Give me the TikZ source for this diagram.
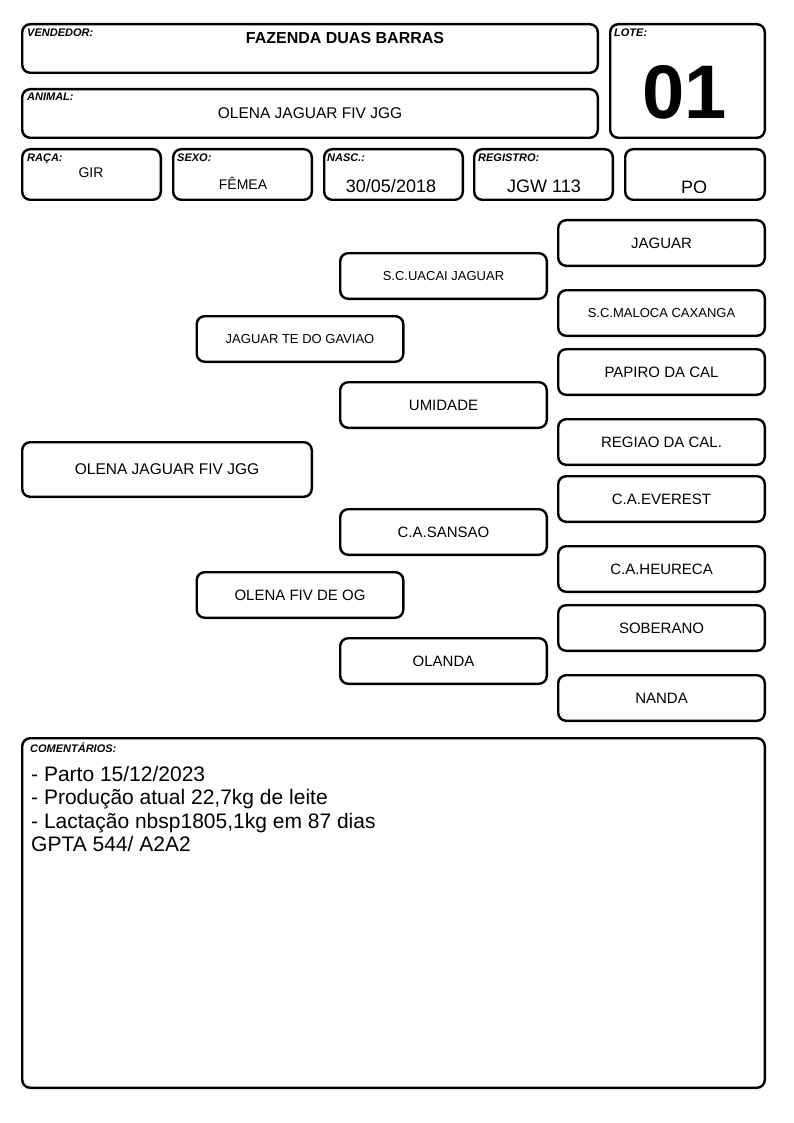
\documentclass[tikz,border=0pt]{standalone}
\usepackage{fontspec}
\setmainfont{Liberation Sans}
\begin{document}
\begin{tikzpicture}[x=1pt,y=-1pt,
  box/.style={draw, line width=2.4pt, rounded corners=8pt, inner sep=0pt},
  ped/.style={box, minimum width=206.6pt, minimum height=45.6pt, align=center},
  lbl/.style={anchor=north west, inner sep=0pt, font=\fontsize{11}{13}\selectfont\bfseries\itshape},
  txt/.style={anchor=base, inner sep=0pt},
  cline/.style={anchor=base west, inner sep=0pt, font=\fontsize{21}{24}\selectfont},
  f13/.style={font=\fontsize{13}{16}\selectfont},
  f14/.style={font=\fontsize{14}{17}\selectfont},
  f15/.style={font=\fontsize{15}{18}\selectfont},
  f16/.style={font=\fontsize{15.5}{19}\selectfont},
  f18/.style={font=\fontsize{18}{21}\selectfont}]
\useasboundingbox (0,0) rectangle (794,1123);
% header
\node[box, minimum width=575.6pt, minimum height=48.6pt] (vend) at (310,48.5) {};
\node[box, minimum width=575.6pt, minimum height=48.6pt] (anim) at (310,113.5) {};
\node[box, minimum width=154.6pt, minimum height=113.6pt] (lote) at (687.5,81) {};
\node[box, minimum width=138.6pt, minimum height=50.6pt] (raca) at (91.5,174.5) {};
\node[box, minimum width=138.6pt, minimum height=50.6pt] (sexo) at (242.5,174.5) {};
\node[box, minimum width=138.6pt, minimum height=50.6pt] (nasc) at (393.5,174.5) {};
\node[box, minimum width=138.6pt, minimum height=50.6pt] (reg) at (543.5,174.5) {};
\node[box, minimum width=139.6pt, minimum height=50.6pt] (po) at (695,174.5) {};
\node[lbl] (lvend) at (27,29) {VENDEDOR:};
\node[lbl] (lanim) at (27,93) {ANIMAL:};
\node[lbl] (llote) at (614,29) {LOTE:};
\node[lbl] (lraca) at (27,154) {RAÇA:};
\node[lbl] (lsexo) at (177,154) {SEXO:};
\node[lbl] (lnasc) at (327,154) {NASC.:};
\node[lbl] (lreg) at (478,154) {REGISTRO:};
\node[txt, font=\fontsize{16}{19}\selectfont\bfseries] (tvend) at (345,44) {FAZENDA DUAS BARRAS};
\node[txt, f16] (tanim) at (310,119) {OLENA JAGUAR FIV JGG};
\node[txt, font=\fontsize{76}{90}\selectfont\bfseries] (tlote) at (685,119) {01};
\node[txt, f14] (traca) at (91,178) {GIR};
\node[txt, f14] (tsexo) at (243,190) {FÊMEA};
\node[txt, f18] (tnasc) at (391,193) {30/05/2018};
\node[txt, f18] (treg) at (544,193) {JGW 113};
\node[txt, f18] (tpo) at (694,194) {PO};
% pedigree
\node[box, minimum width=289.6pt, minimum height=54.6pt, f16] (p0) at (167,469.5) {OLENA JAGUAR FIV JGG};
\node[ped, f13] (p1) at (300,339) {JAGUAR TE DO GAVIAO};
\node[ped, f15] (p2) at (300,595) {OLENA FIV DE OG};
\node[ped, f13] (p3) at (443.5,276) {S.C.UACAI JAGUAR};
\node[ped, f15] (p4) at (443.5,405) {UMIDADE};
\node[ped, f15] (p5) at (443.5,532) {C.A.SANSAO};
\node[ped, f15] (p6) at (443.5,661) {OLANDA};
\node[ped, f15] (p7) at (661.5,243) {JAGUAR};
\node[ped, f13] (p8) at (661.5,313) {S.C.MALOCA CAXANGA};
\node[ped, f15] (p9) at (661.5,372) {PAPIRO DA CAL};
\node[ped, f15] (p10) at (661.5,442) {REGIAO DA CAL.};
\node[ped, f15] (p11) at (661.5,499) {C.A.EVEREST};
\node[ped, f15] (p12) at (661.5,569) {C.A.HEURECA};
\node[ped, f15] (p13) at (661.5,628) {SOBERANO};
\node[ped, f15] (p14) at (661.5,698) {NANDA};
% comments
\node[box, minimum width=742.6pt, minimum height=349.6pt] (com) at (393.5,913) {};
\node[lbl] (lcom) at (30,743) {COMENTÁRIOS:};
\node[cline] (c1) at (31,781) {- Parto 15/12/2023};
\node[cline] (c2) at (31,804.5) {- Produção atual 22,7kg de leite};
\node[cline] (c3) at (31,828) {- Lactação nbsp1805,1kg em 87 dias};
\node[cline] (c4) at (31,851.5) {GPTA 544/ A2A2};
\end{tikzpicture}
\end{document}
